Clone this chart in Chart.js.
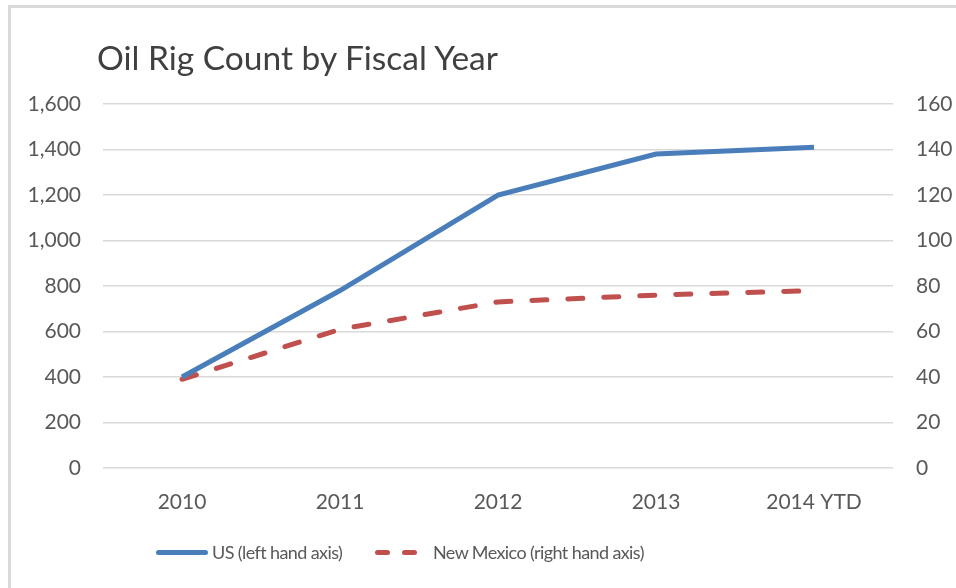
<!DOCTYPE html>
<html>
<head>
<meta charset="utf-8">
<script src="https://cdn.jsdelivr.net/npm/chart.js"></script>
<style>
  body { margin: 0; background: #fff; font-family: Lato, sans-serif; }
  #wrap { position: relative; width: 956px; height: 588px; overflow: hidden; }
  #frame { position: absolute; left: 8px; top: 5px; width: 1000px; height: 700px;
           border-left: 3px solid #d9d9d9; border-top: 3px solid #d9d9d9; }
  #title { position: absolute; left: 97px; top: 37px; font-size: 33.5px; color: #404040; white-space: nowrap; }
  #legend { position: absolute; top: 538px; left: 156px; font-size: 18px; letter-spacing: -0.6px; color: #595959; white-space: nowrap; }
  .item { position: absolute; top: 0; display: flex; align-items: center; height: 28px; }
  .sw { display: inline-block; height: 5px; border-radius: 3px; margin-right: 4px; }
</style>
</head>
<body>
<div id="wrap">
  <div id="frame"></div>
  <canvas id="myChart" width="956" height="588"></canvas>
  <div id="title">Oil Rig Count by Fiscal Year</div>
  <div id="legend">
    <div class="item" style="left:0"><span class="sw" style="width:52px;background:#4a7ebb"></span>US (left hand axis)</div>
    <div class="item" style="left:219px">
      <span class="sw" style="width:15px;background:#c0504d;margin-right:12px"></span>
      <span class="sw" style="width:15px;background:#c0504d;margin-right:16px"></span>New Mexico (right hand axis)</div>
  </div>
</div>
<script>
// data
var years = ['2010', '2011', '2012', '2013', '2014 YTD'];
var usRigs = [400, 780, 1200, 1380, 1410];
var nmRigs = [39, 61, 73, 76, 78];

var tickFont = { family: 'Lato', size: 21 };
var tickColor = '#595959';
var gridColor = '#d9d9d9';

var ctx = document.getElementById('myChart').getContext('2d');

var config = {
    type: 'line',
    data: {
        labels: years,
        datasets: [{
            label: 'US (left hand axis)',
            data: usRigs,
            borderColor: '#4a7ebb',
            borderWidth: 5,
            pointRadius: 0,
            tension: 0,
            yAxisID: 'y'
        }, {
            label: 'New Mexico (right hand axis)',
            data: nmRigs,
            borderColor: '#c0504d',
            borderWidth: 5,
            borderDash: [15, 21],
            borderCapStyle: 'round',
            pointRadius: 0,
            tension: 0,
            yAxisID: 'y1'
        }]
    },
    options: {
        responsive: false,
        animation: false,
        layout: { padding: { top: 104, bottom: 60, left: 0, right: 0 } },
        scales: {
            x: {
                offset: true,
                grid: { display: false },
                border: { display: false },
                ticks: { font: tickFont, color: tickColor, padding: 14 },
                afterFit: function(scale) { scale.height = 60; }
            },
            y: {
                position: 'left',
                min: 0, max: 1600,
                ticks: { stepSize: 200, font: tickFont, color: tickColor, padding: 22 },
                grid: { color: gridColor, lineWidth: 1.5, drawTicks: false },
                border: { display: false },
                afterFit: function(scale) { scale.width = 103; }
            },
            y1: {
                position: 'right',
                min: 0, max: 160,
                ticks: { stepSize: 20, font: tickFont, color: tickColor, padding: 15 },
                grid: { display: false },
                border: { display: false },
                afterFit: function(scale) { scale.width = 63; }
            }
        },
        plugins: {
            legend: { display: false },
            title: { display: false },
            tooltip: { enabled: false }
        }
    }
};

var rigChart = new Chart(ctx, config);
</script>
</body>
</html>
